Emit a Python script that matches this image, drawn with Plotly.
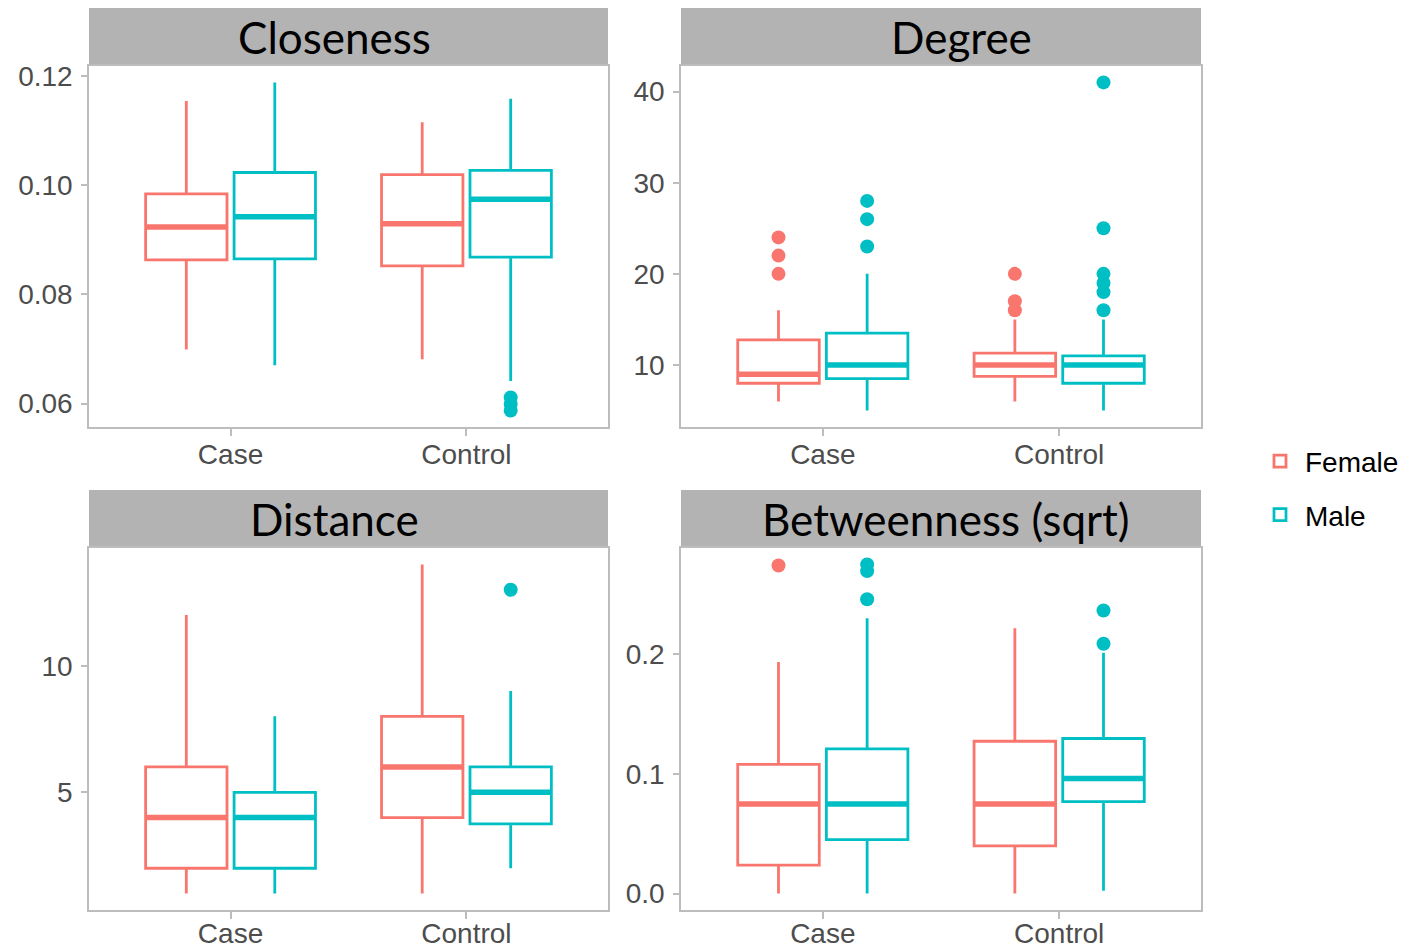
import plotly.graph_objects as go

groups = ["Case", "Control"]
genders = ["Female", "Male"]
colors = {"Female": "#F8766D", "Male": "#00BFC4"}
panel_titles = ["Closeness", "Degree", "Distance", "Betweenness (sqrt)"]

# ---- Box statistics, each list is [Case, Control] ----
# Closeness
clo_f_low = [0.0699, 0.0681]
clo_f_q1 = [0.0863, 0.0852]
clo_f_med = [0.0923, 0.0929]
clo_f_q3 = [0.0984, 0.1019]
clo_f_high = [0.1154, 0.1115]
clo_m_low = [0.0670, 0.0641]
clo_m_q1 = [0.0865, 0.0868]
clo_m_med = [0.0942, 0.0974]
clo_m_q3 = [0.1023, 0.1027]
clo_m_high = [0.1188, 0.1158]
clo_f_out = [[], []]
clo_m_out = [[], [0.0611, 0.0599, 0.0587]]

# Degree
deg_f_low = [6, 6]
deg_f_q1 = [8, 8.75]
deg_f_med = [9, 10]
deg_f_q3 = [12.75, 11.3]
deg_f_high = [16, 15]
deg_m_low = [5, 5]
deg_m_q1 = [8.5, 8]
deg_m_med = [10, 10]
deg_m_q3 = [13.5, 11]
deg_m_high = [20, 15]
deg_f_out = [[24, 22, 20], [20, 17, 16]]
deg_m_out = [[28, 26, 23], [41, 25, 20, 19, 18, 16]]

# Distance
dis_f_low = [1, 1]
dis_f_q1 = [2, 4]
dis_f_med = [4, 6]
dis_f_q3 = [6, 8]
dis_f_high = [12, 14]
dis_m_low = [1, 2]
dis_m_q1 = [2, 3.75]
dis_m_med = [4, 5]
dis_m_q3 = [5, 6]
dis_m_high = [8, 9]
dis_f_out = [[], []]
dis_m_out = [[], [13]]

# Betweenness (sqrt)
bet_f_low = [0.0, 0.0]
bet_f_q1 = [0.0238, 0.0398]
bet_f_med = [0.0749, 0.0749]
bet_f_q3 = [0.108, 0.1273]
bet_f_high = [0.1936, 0.2218]
bet_m_low = [0.0, 0.0022]
bet_m_q1 = [0.045, 0.0768]
bet_m_med = [0.0749, 0.0961]
bet_m_q3 = [0.121, 0.1296]
bet_m_high = [0.2301, 0.2014]
bet_f_out = [[0.2743], []]
bet_m_out = [[0.2751, 0.2696, 0.2461], [0.2367, 0.2088]]

y_ranges = [[0.0557, 0.1218], [3.2, 42.8], [0.35, 14.65], [-0.0138, 0.2889]]
y_ticks = [[0.06, 0.08, 0.10, 0.12], [10, 20, 30, 40], [5, 10], [0.0, 0.1, 0.2]]
y_ticktext = [["0.06", "0.08", "0.10", "0.12"], ["10", "20", "30", "40"], ["5", "10"], ["0.0", "0.1", "0.2"]]

stats = [
    {"Female": (clo_f_low, clo_f_q1, clo_f_med, clo_f_q3, clo_f_high, clo_f_out),
     "Male": (clo_m_low, clo_m_q1, clo_m_med, clo_m_q3, clo_m_high, clo_m_out)},
    {"Female": (deg_f_low, deg_f_q1, deg_f_med, deg_f_q3, deg_f_high, deg_f_out),
     "Male": (deg_m_low, deg_m_q1, deg_m_med, deg_m_q3, deg_m_high, deg_m_out)},
    {"Female": (dis_f_low, dis_f_q1, dis_f_med, dis_f_q3, dis_f_high, dis_f_out),
     "Male": (dis_m_low, dis_m_q1, dis_m_med, dis_m_q3, dis_m_high, dis_m_out)},
    {"Female": (bet_f_low, bet_f_q1, bet_f_med, bet_f_q3, bet_f_high, bet_f_out),
     "Male": (bet_m_low, bet_m_q1, bet_m_med, bet_m_q3, bet_m_high, bet_m_out)},
]

# ---- layout geometry ----
W, H = 1405, 951
col_dom = [[89 / W, 608 / W], [681 / W, 1201 / W]]
row_dom = [[1 - 427 / H, 1 - 66 / H], [1 - 910 / H, 1 - 548 / H]]
strip_h = 58 / H
title_shift = [-14, 20, -14, 5]
x_label_standoff = [-5, -9]

dodge = 0.75 / 2
box_w = 0.345
offsets = {"Female": -dodge / 2, "Male": dodge / 2}

AXIS_FONT = dict(family="Liberation Sans, Arial, sans-serif", size=28, color="#4D4D4D")

fig = go.Figure()
layout = dict(
    width=W, height=H, margin=dict(l=0, r=0, t=0, b=0, autoexpand=False),
    paper_bgcolor="white", plot_bgcolor="white",
    showlegend=True,
    legend=dict(x=1255 / W, y=1 - 488 / H, xanchor="left", yanchor="middle",
                font=dict(family="Liberation Sans, Arial, sans-serif", size=28, color="black"),
                itemwidth=40, tracegroupgap=14, bgcolor="rgba(0,0,0,0)"),
    shapes=[], annotations=[],
)

for i, title in enumerate(panel_titles):
    r, c = divmod(i, 2)
    suffix = "" if i == 0 else str(i + 1)
    xa, ya = "x" + suffix, "y" + suffix
    layout["xaxis" + suffix] = dict(
        domain=col_dom[c], anchor=ya, range=[0.4, 2.6], automargin=False,
        tickvals=[1, 2], ticktext=groups, tickfont=AXIS_FONT,
        showgrid=False, zeroline=False, showline=True, mirror=True,
        linecolor="#BDBDBD", linewidth=1.5, ticks="outside", ticklen=7,
        tickcolor="#BDBDBD", tickwidth=1.5, fixedrange=True,
        ticklabelstandoff=x_label_standoff[r],
    )
    layout["yaxis" + suffix] = dict(
        domain=row_dom[r], anchor=xa, range=y_ranges[i], automargin=False,
        tickvals=y_ticks[i], ticktext=y_ticktext[i], tickfont=AXIS_FONT,
        showgrid=False, zeroline=False, showline=True, mirror=True,
        linecolor="#BDBDBD", linewidth=1.5, ticks="outside", ticklen=6,
        tickcolor="#BDBDBD", tickwidth=1.5, fixedrange=True,
        ticklabelstandoff=3,
    )
    # strip
    layout["shapes"].append(dict(
        type="rect", xref="paper", yref="paper",
        x0=col_dom[c][0], x1=col_dom[c][1],
        y0=row_dom[r][1], y1=row_dom[r][1] + strip_h,
        fillcolor="#B3B3B3", line=dict(width=0), layer="below",
    ))
    layout["annotations"].append(dict(
        xref="paper", yref="paper",
        x=(col_dom[c][0] + col_dom[c][1]) / 2, y=row_dom[r][1] + strip_h / 2,
        xshift=title_shift[i],
        text=title, showarrow=False, xanchor="center", yanchor="middle",
        font=dict(family="Lato, Open Sans, sans-serif", size=44, color="black"),
    ))

    for g in genders:
        low, q1, med, q3, high, outs = stats[i][g]
        pos = [k + 1 + offsets[g] for k in range(len(groups))]
        fig.add_trace(go.Box(
            x=pos, lowerfence=low, q1=q1, median=med, q3=q3, upperfence=high,
            width=box_w, whiskerwidth=0, fillcolor="white",
            line=dict(color=colors[g], width=2.8),
            name=g, legendgroup=g, showlegend=(i == 0),
            xaxis=xa, yaxis=ya, boxpoints=False, hoverinfo="skip",
        ))
        # thick median (ggplot fatten)
        mx, my = [], []
        for k in range(len(groups)):
            mx += [pos[k] - box_w / 2, pos[k] + box_w / 2, None]
            my += [med[k], med[k], None]
        fig.add_trace(go.Scatter(
            x=mx, y=my, mode="lines", line=dict(color=colors[g], width=5.5),
            showlegend=False, legendgroup=g, xaxis=xa, yaxis=ya, hoverinfo="skip",
        ))
        ox, oy = [], []
        for k in range(len(groups)):
            for v in outs[k]:
                ox.append(pos[k])
                oy.append(v)
        if ox:
            fig.add_trace(go.Scatter(
                x=ox, y=oy, mode="markers",
                marker=dict(color=colors[g], size=14, line=dict(width=0)),
                showlegend=False, legendgroup=g, xaxis=xa, yaxis=ya, hoverinfo="skip",
            ))

fig.update_layout(**layout)
fig.write_html("out.html", config={"displayModeBar": False},
               post_script="document.body.style.margin='0';")
